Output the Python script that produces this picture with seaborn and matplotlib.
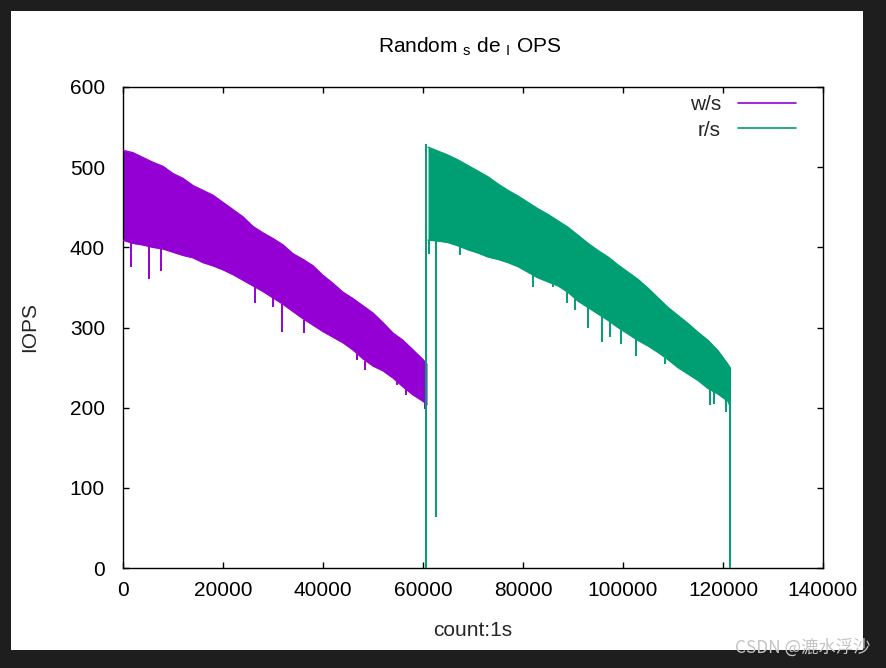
import numpy as np
import pandas as pd
import matplotlib
matplotlib.use("Agg")
import matplotlib.pyplot as plt
from matplotlib.patches import Rectangle
from matplotlib.lines import Line2D
import seaborn as sns

# ---------------- data ----------------
ws_x = [0, 2000, 4000, 6000, 8000, 10000, 12000, 14000, 16000, 18000, 20000,
        22000, 24000, 26000, 28000, 30000, 32000, 34000, 36000, 38000, 40000,
        42000, 44000, 46000, 48000, 50000, 52000, 54000, 56000, 58000, 60000, 60800]
ws_upper = [521, 518, 512, 506, 501, 492, 486, 477, 471, 465, 456,
            447, 438, 426, 418, 411, 403, 392, 385, 377, 365,
            355, 344, 336, 327, 318, 306, 293, 284, 272, 260, 254]
ws_lower = [409, 405, 403, 400, 398, 394, 390, 387, 381, 377, 372,
            366, 359, 352, 345, 337, 329, 320, 311, 303, 295,
            288, 281, 272, 261, 252, 246, 237, 226, 216, 208, 204]
ws_spike_x = [1600, 5300, 7700, 26500, 30100, 31800, 36300, 46900, 48500, 54900, 56600, 60400]
ws_spike_y = [375, 360, 371, 330, 326, 295, 293, 259, 247, 228, 216, 198]

rs_x = [61000, 63000, 65000, 67000, 69000, 71000, 73000, 75000, 77000, 79000,
        81000, 83000, 85000, 87000, 89000, 91000, 93000, 95000, 97000, 99000,
        101000, 103000, 105000, 107000, 109000, 111000, 113000, 115000, 117000,
        119000, 121000, 121500]
rs_upper = [525, 520, 515, 509, 502, 495, 488, 479, 471, 464,
            456, 448, 441, 433, 425, 415, 405, 396, 388, 378,
            369, 360, 349, 337, 325, 315, 305, 294, 284,
            271, 254, 249]
rs_lower = [409, 408, 406, 402, 397, 393, 388, 385, 381, 376,
            369, 362, 357, 352, 344, 333, 325, 317, 309, 300,
            292, 284, 277, 269, 260, 250, 242, 234, 224,
            217, 208, 200]
rs_spike_x = [61300, 62700, 67400, 82100, 86000, 88900, 90500, 93000, 95900,
              97500, 99700, 102600, 108500, 117500, 118300, 120600]
rs_spike_y = [392, 64, 390, 350, 350, 331, 322, 300, 282,
              288, 279, 264, 255, 203, 205, 195]
rs_drop_x = [60700, 121500]
rs_drop_top = [529, 249]

x_ticks = [0, 20000, 40000, 60000, 80000, 100000, 120000, 140000]
y_ticks = [0, 100, 200, 300, 400, 500, 600]

PURPLE = "#9400d3"
GREEN = "#009e73"

# ---------------- figure ----------------
sns.set_theme(style="ticks")
plt.rcParams["font.family"] = ["Liberation Sans", "DejaVu Sans"]

W, H = 887, 668
fig = plt.figure(figsize=(W / 100, H / 100), dpi=100, facecolor="#1e1e1e")
fig.patches.append(Rectangle((11 / W, (H - 650) / H), (863 - 11) / W, (650 - 11) / H,
                             transform=fig.transFigure, facecolor="white",
                             edgecolor="none", zorder=-10))

ax = fig.add_axes([123 / W, (H - 568) / H, 700 / W, 481 / H])
ax.set_facecolor("white")

ws = pd.DataFrame({"x": ws_x, "upper": ws_upper, "lower": ws_lower})
rs = pd.DataFrame({"x": rs_x, "upper": rs_upper, "lower": rs_lower})

for df, col in ((ws, PURPLE), (rs, GREEN)):
    ax.fill_between(df["x"], df["lower"], df["upper"],
                    color=col, linewidth=0, zorder=2)
    sns.lineplot(data=df, x="x", y="upper", ax=ax, color=col, lw=1.0,
                 estimator=None, sort=False, zorder=3)
    sns.lineplot(data=df, x="x", y="lower", ax=ax, color=col, lw=1.0,
                 estimator=None, sort=False, zorder=3)

ax.vlines(ws_spike_x, [np.interp(x, ws_x, ws_lower) for x in ws_spike_x], ws_spike_y,
          color=PURPLE, lw=1.4, zorder=3)
ax.vlines(rs_spike_x, [np.interp(x, rs_x, rs_lower) for x in rs_spike_x], rs_spike_y,
          color=GREEN, lw=1.4, zorder=3)
ax.vlines(rs_drop_x, [0, 0], rs_drop_top, color=GREEN, lw=1.4, zorder=3)

ax.set_xlim(0, 140000)
ax.set_ylim(0, 600)
ax.set_xticks(x_ticks)
ax.set_xticklabels([str(v) for v in x_ticks])
ax.set_yticks(y_ticks)
ax.set_yticklabels([str(v) for v in y_ticks])
ax.tick_params(axis="both", direction="in", top=True, right=True, length=4.5,
               width=1, labelsize=15, colors="black")
ax.tick_params(axis="y", pad=13)
ax.tick_params(axis="x", pad=9)
for s in ax.spines.values():
    s.set_visible(True)
    s.set_color("black")
    s.set_linewidth(1.0)

ax.set_xlabel("count:1s", fontsize=15, va="center")
ax.xaxis.set_label_coords(0.5, (568 - 630) / 481)
ax.set_ylabel("IOPS", fontsize=15, va="center")
ax.yaxis.set_label_coords((30 - 123) / 700, 0.5)

fig.text(470 / W, 1 - 47 / H,
         r"Random $_{\mathregular{s}}$ de $_{\mathregular{I}}$ OPS",
         ha="center", va="center", fontsize=15, color="black")

handles = [Line2D([], [], color=PURPLE, lw=1.2), Line2D([], [], color=GREEN, lw=1.2)]
ax.legend(handles, ["w/s", "r/s"], loc="upper right",
          bbox_to_anchor=((796 - 123) / 700, (568 - 95) / 481),
          frameon=False, markerfirst=False, fontsize=15, handlelength=2.8,
          handletextpad=0.8, labelspacing=0.32, borderaxespad=0, borderpad=0)

fig.text(735 / W, 1 - 648 / H, "CSDN @漉水浮沙", ha="left", va="center",
         fontsize=12.5, color="#c4c4c4",
         family=["Noto Sans CJK SC", "DejaVu Sans"])

fig.savefig("out.png", dpi=100, facecolor=fig.get_facecolor())
